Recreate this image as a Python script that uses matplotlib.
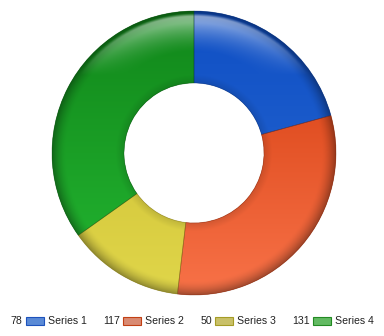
import numpy as np
import matplotlib
matplotlib.use("Agg")
import matplotlib.pyplot as plt
from matplotlib.patches import Rectangle
from matplotlib.colors import to_rgb

plt.rcParams['font.family'] = ['Liberation Sans', 'DejaVu Sans']

series = ["Series 1", "Series 2", "Series 3", "Series 4"]
values = [78, 117, 50, 131]
top_colors = ["#0f4fc4", "#d33a0c", "#c9b92c", "#11861a"]
bottom_colors = ["#2a6ad4", "#f87248", "#e0d64a", "#24b832"]
legend_fill = ["#5a8ad6", "#d98a72", "#c9c068", "#62ba62"]
legend_edge = ["#1d52bc", "#c24014", "#a59c26", "#238a23"]

W, H = 384, 336
fig = plt.figure(figsize=(W / 100, H / 100), dpi=100)

cx, cy, R = 194, 153, 142
ax = fig.add_axes([(cx - R) / W, (H - cy - R) / H, 2 * R / W, 2 * R / H])

hole = 70 / R
wedges, _ = ax.pie(values, colors=top_colors, startangle=90, counterclock=False,
                   radius=1, wedgeprops=dict(width=1 - hole, edgecolor='none'))
ax.set_xlim(-1, 1)
ax.set_ylim(-1, 1)
ax.set_aspect('equal')
ax.axis('off')

# shaded fill for each wedge
n = 500
xs = np.linspace(-1, 1, n)
X, Y = np.meshgrid(xs, xs[::-1])
r = np.hypot(X, Y)
t = (1 - Y) / 2  # 0 at top, 1 at bottom
rim = np.clip((r - 0.9) / 0.1, 0, 1) ** 1.6
inner = np.clip((hole + 0.06 - r) / 0.06, 0, 1)
gloss = np.clip((Y - 0.55) / 0.45, 0, 1) * np.clip((0.985 - r) / 0.02, 0, 1) * \
        np.clip((r - 0.72) / 0.2, 0, 1)

for w, c0, c1 in zip(wedges, top_colors, bottom_colors):
    a = np.array(to_rgb(c0))
    b = np.array(to_rgb(c1))
    img = a[None, None, :] * (1 - t[..., None]) + b[None, None, :] * t[..., None]
    img = img * (1 - 0.35 * rim[..., None]) * (1 - 0.12 * inner[..., None])
    img = img * (1 - 0.55 * gloss[..., None]) + 0.55 * gloss[..., None]
    img = np.clip(img, 0, 1)
    im = ax.imshow(img, extent=(-1, 1, -1, 1), zorder=2, interpolation='bilinear')
    im.set_clip_path(w)
    w.set_zorder(1)

# thin boundary lines between slices
outline, _ = ax.pie(values, startangle=90, counterclock=False, radius=1,
                    wedgeprops=dict(width=1 - hole, fill=False, linewidth=0.5))
for w, c0 in zip(outline, top_colors):
    w.set_edgecolor(tuple(np.array(to_rgb(c0)) * 0.55))
    w.set_alpha(0.45)
    w.set_zorder(3)
ax.set_xlim(-1, 1)
ax.set_ylim(-1, 1)
ax.axis('off')

# legend row
ly = H - 321
items = [(22, 26), (120, 123), (212, 215), (310, 313)]
for (tx, px), v, s, f, e in zip(items, values, series, legend_fill, legend_edge):
    fig.text(tx / W, ly / H, str(v), ha='right', va='center', fontsize=7.6, color='#222222')
    fig.patches.append(Rectangle((px / W, (ly - 4) / H), 18 / W, 8 / H,
                                 transform=fig.transFigure, facecolor=f,
                                 edgecolor=e, linewidth=0.8))
    fig.text((px + 22) / W, ly / H, s, ha='left', va='center', fontsize=7.6, color='#222222')

fig.savefig("out.png", dpi=100, facecolor='white')
